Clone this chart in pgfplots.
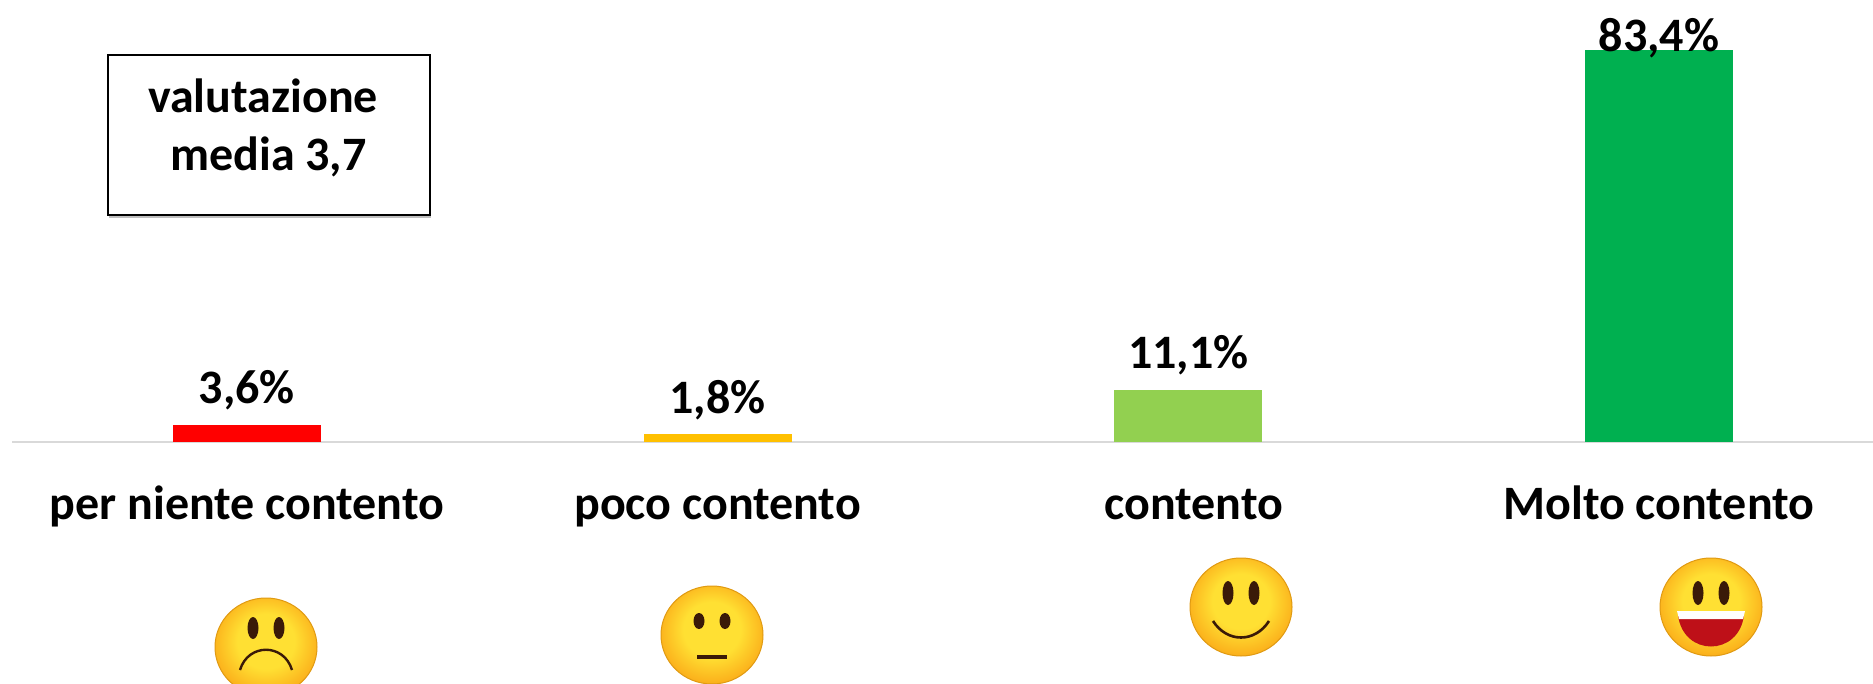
\documentclass[border=0pt]{standalone}
\usepackage{fontspec}
\setmainfont{Carlito}
\usepackage{pgfplots}
\pgfplotsset{compat=1.18}
\usetikzlibrary{shadows}
\definecolor{cRed}{HTML}{FF0000}
\definecolor{cAmber}{HTML}{FFC000}
\definecolor{cLight}{HTML}{92D050}
\definecolor{cGreen}{HTML}{00B050}
\definecolor{axisgray}{HTML}{D9D9D9}
\definecolor{faceA}{HTML}{FFE033}
\definecolor{faceB}{HTML}{FBAE1A}
\definecolor{faceE}{HTML}{E09A12}
\definecolor{eye}{HTML}{3A1A08}
\definecolor{mouthred}{HTML}{BE1018}
\pgfdeclareradialshading{facefill}{\pgfpoint{0bp}{4bp}}{color(0bp)=(faceA); color(14bp)=(faceA); color(27bp)=(faceB); color(50bp)=(faceB)}
\newcommand{\lab}{\fontsize{24}{28}\selectfont\bfseries}
% 1 reference pixel = 0.5pt; y counted downward from the top of the picture
% cx, cy, eye y, eye half height, mouth
\newcommand{\face}[5]{%
  \begin{scope}[x=0.5pt,y=-0.5pt,shift={(#1,#2)}]
    \shade[shading=facefill,draw=faceE,line width=0.5pt]
      (0,0) ellipse (51 and 49);
    \fill[eye] (-13,#3) ellipse (5.5 and #4);
    \fill[eye] (13,#3) ellipse (5.5 and #4);
    #5
  \end{scope}}
\begin{document}
\begin{tikzpicture}[x=0.5pt,y=-0.5pt]
\clip (0,0) rectangle (1873,684);
\begin{axis}[
  at={(6pt,-221pt)},anchor=south west,
  scale only axis,
  width=930.5pt,height=221pt,
  xmin=-0.499,xmax=3.455,ymin=0,ymax=94,
  clip=false,
  axis x line=bottom,axis y line=none,
  axis line style={axisgray,line width=1pt,-},
  xtick={0,1,2,3},
  xticklabels={per niente contento,poco contento,\hspace*{5.6pt}contento,Molto contento},
  xticklabel style={font=\lab,anchor=base,yshift=-38.7pt},
  major tick length=0pt,
  ybar,bar width=74pt,bar shift=0pt,
  nodes near coords={\pgfmathprintnumber[fixed,fixed zerofill,precision=1,use comma,assume math mode=true]{\pgfplotspointmeta}\%},
  nodes near coords style={font=\lab,text=black,anchor=base,yshift=11pt},
]
\addplot[fill=cRed,draw=none] coordinates {(0,3.6)};
\addplot[fill=cAmber,draw=none,nodes near coords style={yshift=-1pt}] coordinates {(1,1.8)};
\addplot[fill=cLight,draw=none,nodes near coords style={yshift=-0.5pt}] coordinates {(2,11.1)};
\addplot[fill=cGreen,draw=none,nodes near coords style={yshift=-11.8pt}] coordinates {(3,83.4)};
\end{axis}
\draw[black,line width=1.2pt,fill=white,drop shadow={shadow xshift=0.6pt,shadow yshift=-1.5pt,opacity=0.5}]
  (108,55) rectangle (430,215);
\node[font=\lab,anchor=base,inner sep=0pt] at (263,112.5) {valutazione};
\node[font=\lab,anchor=base,inner sep=0pt] at (268.5,170.5) {media 3,7};
\face{266}{647}{-19}{11}{\draw[eye,line width=1.2pt] (-26,23) .. controls (-18,-4) and (18,-4) .. (26,23);}
\face{712}{635}{-14}{8}{\fill[eye] (-15,20) rectangle (15,24);}
\face{1241}{607}{-14}{12}{\draw[eye,line width=1.3pt] (-28,14) .. controls (-14,36) and (14,36) .. (28,14);}
\face{1711}{607}{-14}{12}{\fill[mouthred] (-33,8) .. controls (-28,50) and (28,50) .. (33,8) -- cycle;
  \fill[white] (-34,4) -- (34,4) -- (32,12) -- (-32,12) -- cycle;}
\end{tikzpicture}
\end{document}
